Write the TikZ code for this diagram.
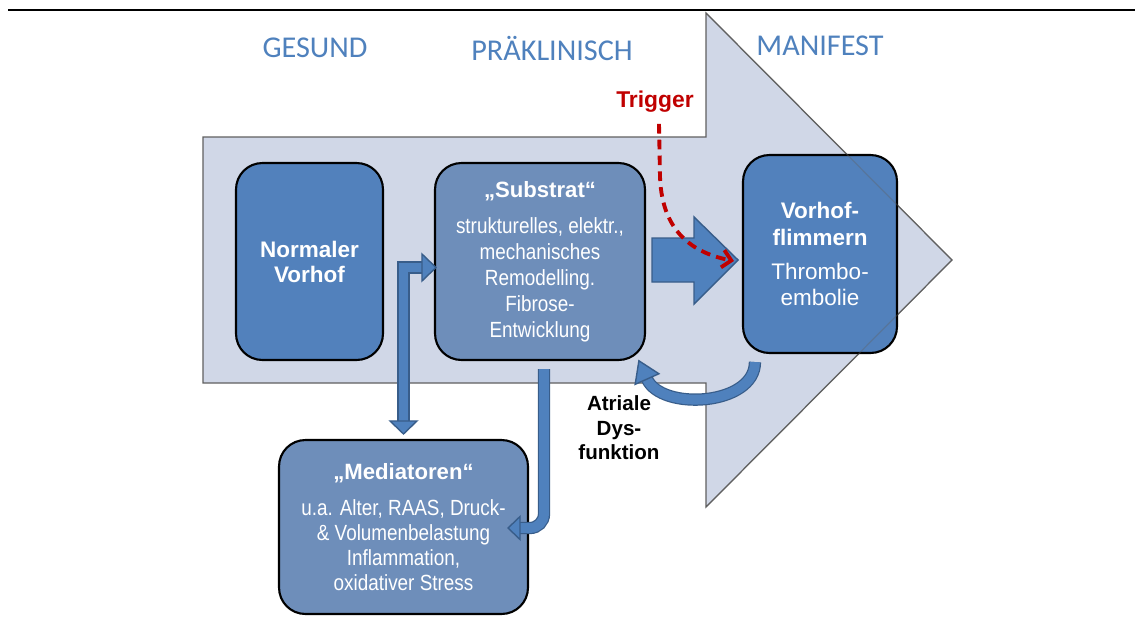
\documentclass[tikz,border=0pt]{standalone}
\usepackage{fontspec}
\usepackage{tikz}
\usetikzlibrary{positioning,arrows.meta,calc}

\newfontfamily\calibri{Carlito}
\newfontfamily\arial{Liberation Sans}
\newfontfamily\arialnarrow[FakeStretch=0.86]{Liberation Sans}
\newcommand{\headFont}{\arial\bfseries\fontsize{12.6}{14.5}\selectfont}

\definecolor{phaseBlue}{RGB}{79,129,189}
\definecolor{bodyFill}{RGB}{208,215,231}
\definecolor{bodyLine}{RGB}{96,96,96}
\definecolor{boxDark}{RGB}{82,129,188}
\definecolor{boxGrey}{RGB}{110,142,186}
\definecolor{bandFill}{RGB}{79,129,189}
\definecolor{bandLine}{RGB}{56,93,138}
\definecolor{triggerRed}{RGB}{192,0,0}

% arrow head of a band: base point, angle, length, half width
\newcommand{\bandtip}[4]{%
  \filldraw[bandTip, rotate around={#2:(#1)}] (#1) ++(0,#4) -- ++(#3,-#4) -- ++(-#3,-#4) -- cycle;}

\begin{document}
\begin{tikzpicture}[
  x=0.02cm, y=-0.02cm,
  phase/.style={font=\calibri\fontsize{17.2}{20}\selectfont, text=phaseBlue},
  stageBox/.style={draw=black, line width=1.2pt, rounded corners=15pt,
                   text=white, align=center, inner sep=0pt},
  bandTip/.style={fill=bandFill, draw=bandLine, line width=0.8pt},
  bandShaft/.style={draw=bandFill, line width=5.6pt,
                    preaction={draw=bandLine, line width=7pt}},
  triggerLine/.style={draw=triggerRed, line width=2.2pt,
                      dash pattern=on 5.5pt off 3.5pt,
                      -{Straight Barb[length=5pt, width=10pt]}}
]
  \useasboundingbox (0,0) rectangle (1135,616);
  \draw[line width=1.7pt] (8,10) -- (1135,10);

  % big phase arrow
  \draw[fill=bodyFill, draw=bodyLine, line width=0.7pt]
    (203,137) -- (706,137) -- (706,13) -- (952,260) -- (706,507)
    -- (706,383) -- (203,383) -- cycle;

  \node[phase] (gesund) at (315,48) {GESUND};
  \node[phase] (praeklinisch) at (552,48) {PRÄKLINISCH};
  \node[phase] (manifest) at (820,46) {MANIFEST};

  % stages
  \node[stageBox, fill=boxDark, minimum width=2.94cm, minimum height=3.94cm,
        font=\arial\bfseries\fontsize{12.8}{14.2}\selectfont]
    (normal) at (309.5,261.5) {Normaler\\Vorhof};
  \node[stageBox, fill=boxGrey, minimum width=4.2cm, minimum height=3.94cm,
        font=\arialnarrow\fontsize{12.5}{14.7}\selectfont]
    (substrat) at (540,261.5)
    {{\headFont „Substrat“}\\[6pt] strukturelles, elektr.,\\ mechanisches\\
     Remodelling.\\ Fibrose-\\ Entwicklung};
  \node[stageBox, fill=boxDark, minimum width=3.08cm, minimum height=3.96cm,
        font=\arial\fontsize{12.8}{15.3}\selectfont]
    (flimmern) at (820,254)
    {\textbf{Vorhof-}\\ \textbf{flimmern}\\[4pt] Thrombo-\\ embolie};
  \node[stageBox, fill=boxGrey, minimum width=4.98cm, minimum height=3.48cm,
        font=\arialnarrow\fontsize{12.5}{14.3}\selectfont]
    (mediatoren) at (403.5,527)
    {{\headFont „Mediatoren“}\\[6pt] u.a. Alter, RAAS, Druck-\\
     \& Volumenbelastung\\ Inflammation,\\ oxidativer Stress};

  % head edge seen through the box
  \draw[bodyLine, line width=0.7pt, opacity=0.35] (706,13) -- (952,260) -- (706,507);

  % block arrow substrat -> flimmern
  \draw[bandTip] ($(substrat.east)+(6,-23.5)$) -- ++(42,0) -- ++(0,-21)
    -- ++(44,43) -- ++(-44,44) -- ++(0,-22) -- ++(-42,0) -- cycle;

  % mediatoren <-> substrat
  \coordinate (medTop) at ($(mediatoren.north)+(0,-18)$);
  \coordinate (subIn) at ($(substrat.west)+(-12,6)$);
  \draw[bandShaft] (medTop) |- (subIn);
  \bandtip{medTop}{-90}{13}{13.5}
  \bandtip{subIn}{0}{14}{13.5}

  % substrat -> mediatoren
  \coordinate (subOut) at ($(substrat.south)+(4,8)$);
  \coordinate (medIn) at ($(mediatoren.east)+(-9,1)$);
  \draw[bandShaft, rounded corners=8pt] (subOut) |- (medIn);
  \bandtip{medIn}{180}{12}{11.5}

  % atriale dysfunktion
  \coordinate (flimOut) at ($(flimmern.south west)+(13,8)$);
  \coordinate (subBack) at ($(substrat.south east)+(1,18)$);
  \draw[bandShaft] (flimOut) .. controls +(0,44) and +(14,32) .. (subBack);
  \bandtip{subBack}{114}{20}{13}
  \node[font=\arial\bfseries\fontsize{11.7}{13.9}\selectfont, align=center]
    (dysfunktion) at (619,428) {Atriale\\ Dys-\\ funktion};

  % trigger
  \node[font=\arial\bfseries\fontsize{13}{15}\selectfont, text=triggerRed]
    (trigger) at (655,102) {Trigger};
  \coordinate (trigStart) at ($(trigger.south)+(4,5)$);
  \coordinate (flimIn) at ($(flimmern.west)+(-8,7)$);
  \draw[triggerLine] (trigStart) -- ++(1,53)
    .. controls +(2,60) and +(-35,-7) .. (flimIn);
\end{tikzpicture}
\end{document}
